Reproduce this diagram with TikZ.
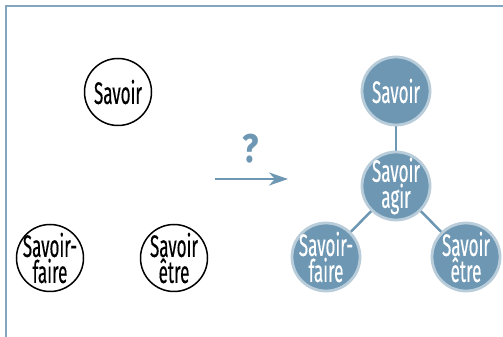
\documentclass[tikz,border=0pt]{standalone}
\usepackage{fontspec}
\setmainfont{Fira Sans}[FakeStretch=0.55,FakeBold=0.3]
\newfontfamily\queryfont{Fira Sans}[FakeStretch=0.85]
\usetikzlibrary{arrows.meta}
\definecolor{steel}{HTML}{6D97B3}
\definecolor{steelpale}{HTML}{B8CCDA}
\definecolor{framecol}{HTML}{82A6BF}

\begin{document}
\begin{tikzpicture}[x=1pt,y=1pt,plain/.style={circle,draw,line width=1.5pt,fill=white,minimum size=67pt,inner sep=0pt},merged/.style={circle,draw=steelpale,line width=2.8pt,fill=steel,minimum size=68pt,inner sep=0pt},word/.style={align=center,inner sep=0pt,font=\fontsize{31}{26}\selectfont},link/.style={draw=steel,line width=2.5pt}]
\useasboundingbox (0,0) rectangle (503,337);
\draw[framecol,line width=1.6pt] (6,0) -- (6,331) -- (503,331);
\coordinate (A) at (118,245);
\coordinate (B) at (50,79);
\coordinate (C) at (174,79);
\coordinate (D) at (396,246);
\coordinate (E) at (396,151);
\coordinate (F) at (326,80);
\coordinate (G) at (466,80);
\node[plain] (savoirL) at (A) {};
\node[word] (savoirLtxt) at (A) {Savoir};
\node[plain] (faireL) at (B) {};
\node[word] (faireLtxt) at (B) {Savoir-\\faire};
\node[plain] (etreL) at (C) {};
\node[word] (etreLtxt) at (C) {Savoir\\être};
\draw[link] (D) -- (E);
\draw[link] (E) -- (F);
\draw[link] (E) -- (G);
\node[merged] (savoirR) at (D) {};
\node[word,text=white] (savoirRtxt) at (D) {Savoir};
\node[merged] (agirR) at (E) {};
\node[word,text=white] (agirRtxt) at (E) {Savoir\\agir};
\node[merged] (faireR) at (F) {};
\node[word,text=white] (faireRtxt) at (F) {Savoir-\\faire};
\node[merged] (etreR) at (G) {};
\node[word,text=white] (etreRtxt) at (G) {Savoir\\être};
\coordinate (arrowstart) at (215,158);
\coordinate (arrowend) at (288,158);
\draw[link,-{Stealth[length=19pt,width=13pt,inset=6pt]}] (arrowstart) -- (arrowend);
\node[text=steel,font=\queryfont\bfseries\fontsize{40}{40}\selectfont] (query) at (251,188) {?};
\end{tikzpicture}
\end{document}
